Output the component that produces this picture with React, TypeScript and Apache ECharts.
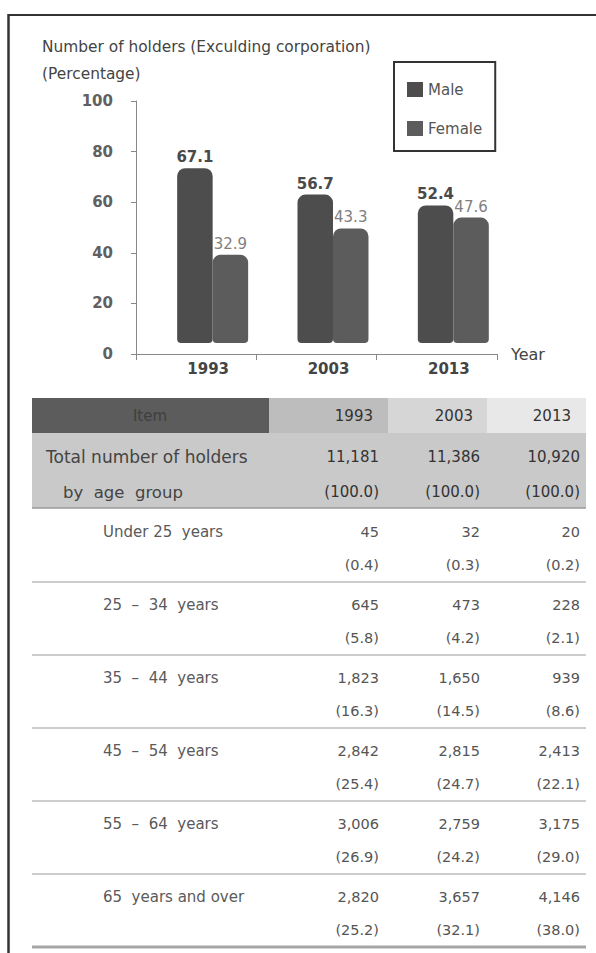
import React, { useEffect, useRef } from "react";
import * as echarts from "echarts";

// ---------- data ----------
const years = ["1993", "2003", "2013"];
const maleShare = [67.1, 56.7, 52.4];
const femaleShare = [32.9, 43.3, 47.6];

const tableYears = ["1993", "2003", "2013"];
const totalHolders = [11181, 11386, 10920];
const totalPct = [100.0, 100.0, 100.0];
const ageGroups = [
  "Under 25  years",
  "25  –  34  years",
  "35  –  44  years",
  "45  –  54  years",
  "55  –  64  years",
  "65  years and over",
];
const holders1993 = [45, 645, 1823, 2842, 3006, 2820];
const holders2003 = [32, 473, 1650, 2815, 2759, 3657];
const holders2013 = [20, 228, 939, 2413, 3175, 4146];
const pct1993 = [0.4, 5.8, 16.3, 25.4, 26.9, 25.2];
const pct2003 = [0.3, 4.2, 14.5, 24.7, 24.2, 32.1];
const pct2013 = [0.2, 2.1, 8.6, 22.1, 29.0, 38.0];

const FONT = "DejaVu Sans";

function fmtNum(n: number) {
  return n.toLocaleString("en-US");
}
function fmtPct(n: number) {
  return "(" + n.toFixed(1) + ")";
}

function makeRender(side: "male" | "female", color: string, labelColor: string, labelWeight: string) {
  return (params: any, api: any) => {
    const idx = api.value(0);
    const val = api.value(1);
    const top = api.coord([idx, val]);
    const base = api.coord([idx, 0]);
    const bw = api.size([1, 0])[0];
    const c = top[0];
    const w = bw * 0.295;
    const x = side === "male" ? c - bw * 0.158 : c - bw * 0.158 + w;
    const dy = -11;
    const yTop = top[1] + dy - 5;
    const yBot = base[1] + dy;
    return {
      type: "group",
      children: [
        {
          type: "rect",
          shape: { x, y: yTop, width: w, height: yBot - yTop, r: [8, 8, 4, 4] },
          style: { fill: color },
        },
        {
          type: "text",
          style: {
            text: val.toFixed(1),
            x: x + w / 2,
            y: yTop - 11,
            align: "center",
            verticalAlign: "middle",
            textAlign: "center",
            textVerticalAlign: "middle",
            fontSize: 15,
            fontWeight: labelWeight,
            fontFamily: FONT,
            fill: labelColor,
          },
        },
      ],
    };
  };
}

function txt(text: string, x: number, y: number, opts: any = {}) {
  return {
    type: "text",
    silent: true,
    style: {
      text,
      x,
      y,
      align: opts.align || "left",
      textAlign: opts.align || "left",
      verticalAlign: "middle",
      textVerticalAlign: "middle",
      fontSize: opts.size || 14,
      fontWeight: opts.weight || "normal",
      fontFamily: FONT,
      fill: opts.color || "#555",
    },
  };
}

function hline(x1: number, x2: number, y: number, color: string, width: number) {
  return {
    type: "line",
    silent: true,
    shape: { x1, y1: y, x2, y2: y },
    style: { stroke: color, lineWidth: width },
  };
}

function buildTable() {
  const els: any[] = [];
  const colRight = [379, 480, 580];
  const headRight = [373, 473, 571];
  // header
  els.push({ type: "rect", silent: true, shape: { x: 32, y: 398, width: 237, height: 35 }, style: { fill: "#5c5c5c" } });
  els.push({ type: "rect", silent: true, shape: { x: 269, y: 398, width: 119, height: 35 }, style: { fill: "#bdbdbd" } });
  els.push({ type: "rect", silent: true, shape: { x: 388, y: 398, width: 99, height: 35 }, style: { fill: "#d6d6d6" } });
  els.push({ type: "rect", silent: true, shape: { x: 487, y: 398, width: 99, height: 35 }, style: { fill: "#e8e8e8" } });
  els.push(txt("Item", 150, 416, { align: "center", color: "#3f3f3f", size: 15 }));
  tableYears.forEach((y, i) => els.push(txt(y, headRight[i], 416, { align: "right", color: "#333", size: 15 })));
  // total band
  els.push({ type: "rect", silent: true, shape: { x: 32, y: 433, width: 554, height: 75 }, style: { fill: "#c9c9c9" } });
  els.push(hline(32, 586, 508, "#9a9a9a", 1.5));
  els.push(txt("Total number of holders", 46, 457, { size: 17, color: "#444" }));
  els.push(txt("by  age  group", 63, 492, { size: 16.5, color: "#444" }));
  totalHolders.forEach((v, i) => els.push(txt(fmtNum(v), colRight[i], 457, { align: "right", size: 15, color: "#333" })));
  totalPct.forEach((v, i) => els.push(txt(fmtPct(v), colRight[i], 492, { align: "right", size: 15, color: "#333" })));
  // rows
  const cols = [holders1993, holders2003, holders2013];
  const pcols = [pct1993, pct2003, pct2013];
  ageGroups.forEach((g, r) => {
    const topLine = 509 + 73 * r;
    els.push(txt(g, 103, topLine + 23, { size: 15, color: "#5a5a5a" }));
    cols.forEach((col, i) => els.push(txt(fmtNum(col[r]), colRight[i], topLine + 23, { align: "right", size: 14.5, color: "#555" })));
    pcols.forEach((col, i) => els.push(txt(fmtPct(col[r]), colRight[i], topLine + 56, { align: "right", size: 14.5, color: "#555" })));
    if (r < ageGroups.length - 1) els.push(hline(32, 586, topLine + 73, "#9a9a9a", 1));
  });
  els.push(hline(32, 586, 947, "#a5a5a5", 3));
  return els;
}

export default function App() {
  const ref = useRef<HTMLDivElement>(null);
  useEffect(() => {
    if (!ref.current) return;
    const chart = echarts.init(ref.current, undefined, { renderer: "svg" });
    const option: any = {
      animation: false,
      backgroundColor: "#ffffff",
      textStyle: { fontFamily: FONT },
      grid: { left: 136, top: 101, width: 361, height: 253 },
      legend: {
        data: ["Male", "Female"],
        orient: "vertical",
        left: 394,
        top: 62,
        icon: "rect",
        itemWidth: 16,
        itemHeight: 15,
        itemGap: 24,
        padding: [20, 13, 15, 13],
        borderColor: "#333",
        borderWidth: 2,
        textStyle: { fontSize: 15, color: "#555", fontFamily: FONT },
      },
      xAxis: {
        type: "category",
        data: years,
        axisLine: { lineStyle: { color: "#888", width: 1 } },
        axisTick: { show: true, length: 6, lineStyle: { color: "#888" } },
        axisLabel: { fontSize: 15, color: "#444", fontWeight: "bold", margin: 7, padding: [0, 0, 0, 24], fontFamily: FONT },
        name: "Year",
        nameLocation: "end",
        nameGap: 14,
        nameTextStyle: { fontSize: 16, color: "#444", fontFamily: FONT, verticalAlign: "middle", padding: [0, 0, -4, 0] },
      },
      yAxis: {
        type: "value",
        min: 0,
        max: 100,
        interval: 20,
        axisLine: { show: true, lineStyle: { color: "#888", width: 1 } },
        axisTick: { show: true, length: 5, lineStyle: { color: "#888" } },
        splitLine: { show: false },
        axisLabel: { fontSize: 15, color: "#606060", fontWeight: "bold", margin: 23, fontFamily: FONT },
      },
      series: [
        {
          name: "Male",
          type: "custom",
          itemStyle: { color: "#4d4d4d" },
          data: years.map((_, i) => [i, maleShare[i]]),
          encode: { x: 0, y: 1 },
          renderItem: makeRender("male", "#4d4d4d", "#4a4a4a", "bold"),
        },
        {
          name: "Female",
          type: "custom",
          itemStyle: { color: "#5c5c5c" },
          data: years.map((_, i) => [i, femaleShare[i]]),
          encode: { x: 0, y: 1 },
          renderItem: makeRender("female", "#5c5c5c", "#808080", "normal"),
        },
      ],
      graphic: [
        // frame
        { type: "line", silent: true, shape: { x1: 8, y1: 15, x2: 596, y2: 15 }, style: { stroke: "#333", lineWidth: 2 } },
        { type: "line", silent: true, shape: { x1: 8.5, y1: 14, x2: 8.5, y2: 953 }, style: { stroke: "#333", lineWidth: 2.5 } },
        txt("Number of holders (Exculding corporation)", 42, 47, { size: 15.4, color: "#444" }),
        txt("(Percentage)", 42, 74, { size: 15.4, color: "#444" }),
        ...buildTable(),
      ],
    };
    chart.setOption(option);
    return () => chart.dispose();
  }, []);
  return <div ref={ref} style={{ position: "absolute", left: 0, top: 0, width: 596, height: 953 }} />;
}
